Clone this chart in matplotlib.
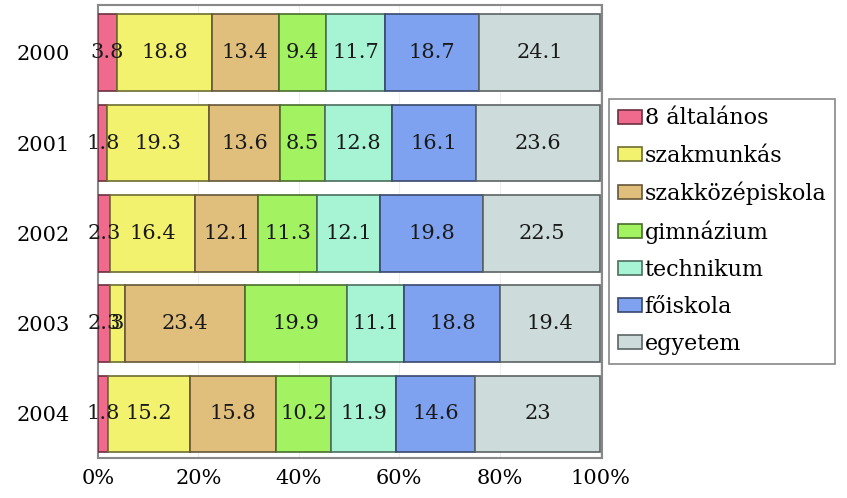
import numpy as np
import matplotlib.pyplot as plt

years = ['2000', '2001', '2002', '2003', '2004']
categories = ['8 általános', 'szakmunkás', 'szakközépiskola', 'gimnázium',
              'technikum', 'főiskola', 'egyetem']
values = [
    [3.8, 1.8, 2.3, 2.3, 1.8],       # 8 általános
    [18.8, 19.3, 16.4, 3, 15.2],     # szakmunkás
    [13.4, 13.6, 12.1, 23.4, 15.8],  # szakközépiskola
    [9.4, 8.5, 11.3, 19.9, 10.2],    # gimnázium
    [11.7, 12.8, 12.1, 11.1, 11.9],  # technikum
    [18.7, 16.1, 19.8, 18.8, 14.6],  # főiskola
    [24.1, 23.6, 22.5, 19.4, 23],    # egyetem
]
colors = ['#F06A8E', '#F3F26E', '#E0BE7C', '#A2F262', '#A6F4D4', '#7FA2F0', '#CDDCDB']

plt.rcParams['font.family'] = ['DejaVu Serif']

data = np.array(values, dtype=float)
# each year's bar is scaled to 100%
pct = data / data.sum(axis=0) * 100

fig = plt.figure(figsize=(8.47, 4.98), dpi=100)
ax = fig.add_axes([0.1157, 0.080, 0.595, 0.910])

y = np.arange(len(years))
left = np.zeros(len(years))
for i, cat in enumerate(categories):
    edge = tuple(c * 0.45 for c in plt.matplotlib.colors.to_rgb(colors[i]))
    ax.barh(y, pct[i], left=left, height=0.85, color=colors[i],
            edgecolor=edge, linewidth=1.2, label=cat, zorder=3)
    for j in range(len(years)):
        v = data[i, j]
        ax.text(left[j] + pct[i, j] / 2, y[j], f'{v:g}', ha='center', va='center',
                fontsize=15, color='#1a1a1a', zorder=4)
    left += pct[i]

ax.set_xlim(0, 100.4)
ax.set_ylim(4.49, -0.53)
ax.set_yticks(y)
ax.set_yticklabels(years, fontsize=15)
ax.set_xticks(np.arange(0, 101, 20))
ax.set_xticklabels([f'{t}%' for t in range(0, 101, 20)], fontsize=15)
ax.tick_params(axis='y', length=0, pad=20)
ax.tick_params(axis='x', length=0, pad=8)
ax.xaxis.grid(True, color='#EEEEEE', linewidth=0.8, zorder=0)
for s in ax.spines.values():
    s.set_color('#888888')
    s.set_linewidth(1.5)

leg = fig.legend(loc='upper left', bbox_to_anchor=(0.719, 0.802), fontsize=16,
                 handlelength=1.1, handleheight=0.6, handletextpad=0.1,
                 labelspacing=0.68, borderpad=0.4, borderaxespad=0, fancybox=False,
                 edgecolor='#888888', framealpha=1)
leg.get_frame().set_linewidth(1.2)

fig.savefig('out.png', dpi=100)
